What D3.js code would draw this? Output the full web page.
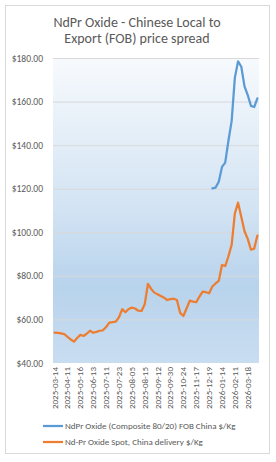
<!DOCTYPE html>
<html><head><meta charset="utf-8">
<script src="https://cdn.jsdelivr.net/npm/d3@7"></script>
<style>html,body{margin:0;padding:0;background:#fff;}svg{display:block;}</style>
</head><body>
<svg id="chart" width="276" height="462"></svg>
<script>
const dates = ["2025-03-14","2025-03-21","2025-03-28","2025-04-04","2025-04-11","2025-04-18","2025-04-25","2025-05-09",
"2025-05-16","2025-05-23","2025-05-30","2025-06-06","2025-06-13","2025-06-20","2025-06-27","2025-07-04",
"2025-07-11","2025-07-14","2025-07-17","2025-07-21","2025-07-23","2025-07-28","2025-07-30","2025-08-01",
"2025-08-05","2025-08-07","2025-08-11","2025-08-13","2025-08-15","2025-08-22","2025-08-29","2025-09-05",
"2025-09-12","2025-09-19","2025-09-24","2025-09-26","2025-09-30","2025-10-10","2025-10-14","2025-10-17",
"2025-10-24","2025-10-31","2025-11-07","2025-11-12","2025-11-17","2025-11-24","2025-11-28","2025-12-05",
"2025-12-19","2025-12-26","2026-01-02","2026-01-09","2026-01-14","2026-01-21","2026-01-28","2026-02-04",
"2026-02-11","2026-02-18","2026-02-25","2026-03-11","2026-03-18","2026-03-25","2026-04-01","2026-04-08"];
const fobSeries = [null,null,null,null,null,null,null,null,null,null,null,null,null,null,null,null,
null,null,null,null,null,null,null,null,null,null,null,null,null,null,null,null,
null,null,null,null,null,null,null,null,null,null,null,null,null,null,null,null,
null,120.2,120.5,123.2,130,132,142,151,171,178.5,176,167,163,158,157.5,161.5];
const spotSeries = [53.9,53.8,53.6,53.3,52.0,50.8,49.8,51.5,52.9,52.4,53.5,54.8,53.9,54.3,54.8,55.0,
56.5,58.5,58.8,59.0,61.0,64.7,63.3,64.8,65.4,65.0,64.0,63.9,67,76.3,74.0,72.3,
71.5,70.8,70.0,68.9,69.3,69.5,68.9,63.0,61.6,65.0,68.6,68.2,67.9,70.5,72.8,72.5,
72.0,75.1,76.5,77.7,85.0,84.5,89,94.2,108.7,113.6,107,100.5,97,92,92.5,98.5];
const yTicks = [40,60,80,100,120,140,160,180];
const labelEvery = 4;
const titleLines = ["NdPr Oxide - Chinese Local to","Export (FOB) price spread"];
const seriesNames = ["NdPr Oxide (Composite 80/20) FOB China $/Kg","Nd-Pr Oxide Spot, China delivery $/Kg"];

const svg = d3.select("#chart");
const font = "Calibri, Carlito, 'Open Sans', sans-serif";
const txt = "#595959";
svg.append("rect").attr("x",5.5).attr("y",5.5).attr("width",264).attr("height",448)
  .attr("fill","#fff").attr("stroke","#d9d9d9");

const L=53, R=259, T=58, B=363;
const x = d3.scaleBand().domain(d3.range(dates.length)).range([L,R]);
const y = d3.scaleLinear().domain([40,180]).range([B,T]);

const defs = svg.append("defs");
const g = defs.append("linearGradient").attr("id","bg").attr("x1",0).attr("y1",0).attr("x2",0).attr("y2",1);
[[0,"#f7fafd"],[0.5,"#d2e3f3"],[0.75,"#b8d3ec"],[1,"#c9ddf1"]].forEach(s=>g.append("stop").attr("offset",s[0]).attr("stop-color",s[1]));
svg.append("rect").attr("x",L).attr("y",T).attr("width",R-L).attr("height",B-T).attr("fill","url(#bg)");

svg.append("g").selectAll("line").data(yTicks.filter(d=>d>40)).join("line")
  .attr("x1",L).attr("x2",R).attr("y1",d=>y(d)+0.5).attr("y2",d=>y(d)+0.5)
  .attr("stroke","#d9d9d9").attr("stroke-width",1);

const yAxis = svg.append("g").attr("transform",`translate(${L},0)`)
  .call(d3.axisLeft(y).tickValues(yTicks).tickSize(0).tickPadding(10).tickFormat(d=>"$"+d.toFixed(2)));
yAxis.select(".domain").remove();
yAxis.selectAll("text").attr("fill",txt).style("font-family",font).style("font-size","9.5px");

const xAxis = svg.append("g").attr("transform",`translate(0,${B})`)
  .call(d3.axisBottom(x).tickValues(d3.range(0,dates.length,labelEvery)).tickSize(0).tickFormat(i=>dates[i]));
xAxis.select(".domain").remove();
xAxis.selectAll("text").attr("fill",txt).style("font-family",font).style("font-size","9px")
  .attr("transform","rotate(-90)").attr("text-anchor","end").attr("x",-4).attr("y",0).attr("dy","0.32em");

const cx = i => x(i)+x.bandwidth()/2;
const line = d3.line().defined(d=>d!=null).x((d,i)=>cx(i)).y(d=>y(d)).curve(d3.curveLinear);
svg.append("path").datum(fobSeries).attr("d",line).attr("fill","none").attr("stroke","#5b9bd5")
  .attr("stroke-width",2.25).attr("stroke-linejoin","round").attr("stroke-linecap","round");
svg.append("path").datum(spotSeries).attr("d",line).attr("fill","none").attr("stroke","#ed7d31")
  .attr("stroke-width",2.25).attr("stroke-linejoin","round").attr("stroke-linecap","round");

svg.append("g").selectAll("text").data(titleLines).join("text")
  .attr("x",137).attr("y",(d,i)=>27+i*16).attr("text-anchor","middle")
  .attr("fill",txt).style("font-family",font).style("font-size","14px").text(d=>d);

const colors = ["#5b9bd5","#ed7d31"];
const lg = svg.append("g");
seriesNames.forEach((n,i)=>{
  const yy = 426 + i*16;
  lg.append("line").attr("x1",43).attr("x2",63).attr("y1",yy).attr("y2",yy).attr("stroke",colors[i]).attr("stroke-width",2.25);
  lg.append("text").attr("x",65).attr("y",yy).attr("dy","0.35em").attr("fill",txt)
    .style("font-family",font).style("font-size","9px").text(n);
});
</script>
</body></html>
